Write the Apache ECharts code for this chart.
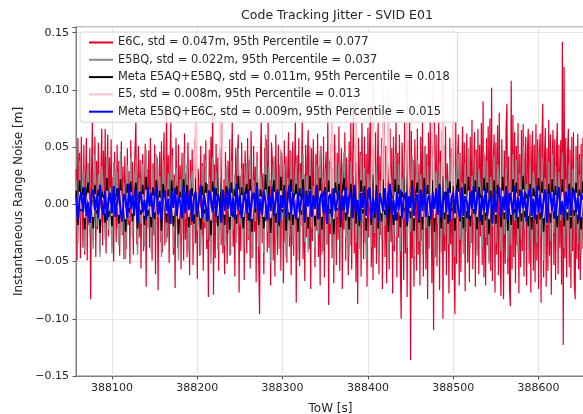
<!DOCTYPE html>
<html>
<head>
<meta charset="utf-8">
<script src="https://cdn.jsdelivr.net/npm/echarts@6/dist/echarts.min.js"></script>
<style>
  html, body { margin: 0; padding: 0; background: #fff; }
  #chart { width: 583px; height: 414px; }
</style>
</head>
<body>
<div id="chart"></div>
<script>
// time axis: first epoch [s] and sample steps
const t0 = 388058
const stepE6C = 1
const stepOther = 2

const xTicks = [388100, 388200, 388300, 388400, 388500, 388600]

const seriesNames = [
  'E6C, std = 0.047m, 95th Percentile = 0.077',
  'E5BQ, std = 0.022m, 95th Percentile = 0.037',
  'Meta E5AQ+E5BQ, std = 0.011m, 95th Percentile = 0.018',
  'E5, std = 0.008m, 95th Percentile = 0.013',
  'Meta E5BQ+E6C, std = 0.009m, 95th Percentile = 0.015'
]

// E6C noise [m], 1 s
const e6c = [
  0.031,-0.049,0.058,-0.012,0.045,-0.047,0.059,0.008,-0.038,0.052,
  -0.044,0.021,0.058,-0.049,0.036,-0.018,0.049,-0.083,0.027,0.072,
  -0.031,0.012,0.059,-0.046,0.038,-0.022,0.054,0.003,-0.041,0.028,
  0.066,-0.036,0.047,-0.015,0.066,-0.043,0.019,0.061,-0.028,0.041,
  -0.009,0.057,-0.037,0.024,-0.05,0.046,0.011,-0.033,0.052,-0.021,
  0.038,-0.045,0.014,0.055,-0.027,0.033,-0.048,0.042,0.006,-0.039,
  0.049,-0.018,0.029,-0.052,0.056,-0.011,0.037,-0.044,0.023,0.048,
  0.072,-0.035,0.017,0.051,-0.029,0.039,-0.056,0.026,0.044,-0.041,
  0.012,0.053,-0.072,0.031,-0.019,0.047,-0.038,0.058,0.004,-0.049,
  0.036,-0.027,0.052,-0.061,0.028,0.041,-0.075,0.019,0.046,-0.033,
  0.055,-0.042,0.024,0.063,-0.036,0.011,0.084,-0.029,0.043,-0.051,
  0.037,0.072,-0.017,0.049,-0.044,0.026,-0.073,0.058,0.008,-0.038,
  0.052,-0.023,0.034,-0.057,0.045,0.015,-0.049,0.062,-0.031,0.027,
  -0.046,0.054,0.003,-0.062,0.039,-0.018,0.048,-0.053,0.021,0.057,
  -0.034,0.042,-0.065,0.031,0.009,-0.045,0.051,-0.027,0.036,-0.058,
  0.044,-0.021,0.056,-0.039,0.018,-0.081,0.048,-0.032,0.059,0.012,
  0.081,-0.079,0.035,-0.047,0.053,-0.016,0.041,-0.058,0.027,0.049,
  -0.036,0.072,-0.043,0.022,-0.061,0.046,0.007,-0.052,0.038,-0.025,
  0.057,-0.044,0.031,0.072,-0.037,0.014,-0.063,0.049,-0.028,0.043,
  0.061,-0.077,0.025,-0.041,0.054,-0.019,0.036,-0.066,0.047,0.018,
  -0.043,0.058,-0.031,0.039,-0.056,0.064,0.008,-0.047,0.051,-0.024,
  0.033,-0.068,0.046,0.015,-0.052,-0.096,0.041,0.072,-0.034,0.027,
  -0.061,0.049,-0.015,0.057,-0.042,0.072,-0.038,0.021,-0.071,0.054,
  0.038,-0.049,0.029,-0.063,0.061,0.006,-0.044,0.052,-0.027,0.035,
  -0.058,0.045,0.019,-0.069,0.056,-0.033,0.042,-0.051,0.028,0.063,
  -0.037,0.047,-0.062,0.024,0.055,-0.045,0.031,0.074,-0.086,0.043,
  -0.021,0.058,-0.054,0.036,0.011,0.074,-0.048,0.026,-0.067,0.052,
  -0.029,0.041,0.065,-0.039,0.018,-0.074,0.049,-0.032,0.057,0.008,
  -0.055,0.044,-0.023,0.062,-0.046,0.033,-0.071,0.051,0.017,-0.041,
  0.059,-0.064,0.028,0.046,-0.035,0.077,-0.088,0.038,-0.026,0.053,
  -0.047,0.032,-0.069,0.061,0.014,-0.053,0.045,-0.031,0.068,-0.058,
  0.027,0.049,-0.074,0.036,-0.022,0.063,-0.049,0.041,0.009,-0.062,
  0.055,-0.036,0.072,-0.057,0.029,0.086,-0.043,0.052,-0.068,0.037,
  -0.087,0.058,-0.025,0.046,-0.063,0.071,0.012,-0.048,0.059,-0.034,
  0.044,-0.072,0.067,-0.029,0.053,0.086,-0.055,0.031,-0.066,0.048,
  -0.038,0.063,-0.052,0.026,0.071,-0.061,0.042,-0.027,0.058,-0.074,
  0.035,0.077,-0.046,0.051,-0.069,0.038,0.018,-0.057,0.066,-0.033,
  0.049,-0.078,0.059,-0.041,0.027,0.072,-0.064,0.045,-0.029,0.061,
  -0.052,-0.1,0.054,0.031,-0.066,0.072,-0.043,0.048,-0.081,0.056,
  0.021,0.072,-0.136,0.064,-0.047,0.039,-0.072,0.057,0.013,-0.058,
  0.066,-0.044,0.035,-0.071,0.059,-0.032,0.072,-0.063,0.028,0.051,
  -0.057,0.044,-0.083,0.063,-0.038,0.072,0.019,-0.069,0.055,-0.11,
  0.072,-0.046,0.061,-0.054,0.033,0.072,-0.075,0.047,-0.029,0.064,
  -0.1,0.052,-0.041,0.068,-0.062,0.036,0.017,-0.078,0.058,-0.035,
  0.049,-0.066,0.071,-0.048,-0.096,0.072,-0.052,0.038,0.061,-0.071,
  0.045,-0.059,0.027,0.068,-0.043,0.054,-0.076,0.036,0.062,-0.051,
  0.041,-0.068,0.059,-0.034,0.074,-0.057,0.029,0.063,-0.072,0.048,
  -0.039,0.066,-0.061,0.052,-0.028,0.071,-0.053,0.09,-0.064,0.043,
  -0.071,0.058,-0.036,0.068,-0.049,0.075,-0.058,0.102,-0.067,0.039,
  0.061,-0.077,0.054,-0.044,0.069,-0.062,0.08,-0.038,-0.08,0.057,
  0.056,-0.083,0.047,-0.052,0.067,0.088,-0.061,0.042,-0.074,-0.089,
  0.108,-0.057,0.078,-0.046,0.063,-0.069,0.051,-0.036,0.071,-0.078,
  0.044,-0.055,0.065,-0.041,0.07,-0.063,0.038,0.059,-0.071,0.049,
  0.066,-0.052,0.061,-0.077,0.043,0.064,-0.058,0.052,-0.068,0.07,
  -0.049,0.057,-0.074,0.045,0.062,-0.086,0.053,0.088,-0.064,0.041,
  0.067,-0.072,0.049,-0.058,0.074,-0.045,0.061,-0.079,0.038,0.065,
  -0.053,0.057,-0.066,0.044,0.071,-0.061,0.052,-0.038,0.056,-0.07,
  0.142,-0.123,0.12,-0.047,0.058,-0.064,0.043,0.066,-0.055,0.048,
  -0.073,0.059,-0.041,0.063,-0.069,-0.083,0.051,-0.048,0.062,-0.057,
  0.044,-0.066,0.053,-0.039,0.058,-0.052
]

// E5BQ noise [m], 2 s
const e5bq = [
  0.021,-0.034,0.038,-0.012,0.029,-0.041,0.017,0.036,-0.027,0.008,
  -0.039,0.044,-0.019,0.026,-0.046,0.033,0.011,-0.031,0.042,-0.022,
  0.015,-0.043,0.037,-0.008,0.028,-0.036,0.046,-0.025,0.019,-0.048,
  0.034,-0.014,0.041,-0.029,0.006,0.039,-0.044,0.023,-0.017,0.035,
  -0.037,0.048,-0.021,0.013,-0.042,0.031,-0.028,0.044,-0.011,0.025,
  -0.046,0.038,0.004,-0.033,0.027,-0.019,0.043,-0.038,0.016,0.032,
  -0.049,0.022,-0.026,0.045,-0.013,0.036,-0.041,0.018,0.029,-0.035,
  0.047,-0.023,0.009,-0.044,0.034,-0.016,0.039,-0.031,0.024,-0.052,
  0.041,-0.007,0.028,-0.039,0.046,-0.027,0.014,-0.036,0.033,0.019,
  -0.045,0.038,-0.022,0.027,-0.034,0.049,-0.018,0.031,-0.041,0.012,
  0.036,-0.029,0.044,-0.047,0.021,-0.015,0.039,-0.037,0.026,0.008,
  -0.043,0.061,-0.024,0.033,-0.051,0.018,0.042,-0.032,0.027,-0.039,
  0.048,-0.014,0.035,-0.046,0.023,-0.028,0.045,-0.036,0.011,0.037,
  -0.049,0.029,-0.019,0.044,-0.033,0.025,-0.042,0.051,-0.021,0.016,
  -0.038,0.034,-0.026,0.047,-0.044,0.019,0.031,-0.035,0.042,-0.017,
  0.028,-0.053,0.039,-0.011,0.036,-0.041,0.024,0.046,-0.029,0.013,
  -0.045,0.037,-0.023,0.049,-0.034,0.018,-0.039,0.043,-0.016,0.032,
  -0.047,0.027,0.009,-0.037,0.052,-0.025,0.034,-0.043,0.021,-0.031,
  0.045,-0.019,0.038,-0.049,0.026,0.014,-0.036,0.044,-0.028,0.035,
  -0.041,0.023,-0.012,0.048,-0.038,0.031,-0.024,0.042,-0.046,0.017,
  0.039,-0.033,0.026,-0.044,0.047,-0.021,0.034,-0.039,0.013,0.043,
  -0.048,0.029,-0.017,0.037,-0.042,0.051,-0.027,0.022,-0.035,0.041,
  -0.013,0.033,-0.046,0.028,0.044,-0.031,0.019,-0.043,0.036,-0.024,
  0.049,-0.038,0.025,-0.016,0.042,-0.045,0.031,0.011,-0.037,0.046,
  -0.029,0.038,-0.052,0.024,-0.019,0.043,-0.034,0.035,0.017,-0.041,
  0.048,-0.026,0.032,-0.047,0.021,-0.036,0.044,-0.014,0.039,-0.043,
  0.027,-0.031,0.051,-0.022,0.018,-0.039,0.036,-0.045,0.029,0.012,
  -0.034,0.046,-0.027,0.041,-0.049,0.023,-0.018,0.037,-0.032,0.044,
  -0.025,0.033,-0.041,0.028,-0.014,0.045,-0.038,0.022,-0.029,0.036,
  -0.043,0.031,-0.021,0.039,-0.035,0.026,-0.044,0.041
]

// Meta E5AQ+E5BQ noise [m], 2 s
const metaE5 = [
  0.012,-0.018,0.021,-0.006,0.015,-0.022,0.009,0.019,-0.014,0.004,
  -0.021,0.017,-0.008,0.013,-0.025,0.011,0.006,-0.016,0.023,-0.011,
  0.007,-0.019,0.016,-0.003,0.014,-0.017,0.022,-0.012,0.008,-0.024,
  0.018,-0.007,0.02,-0.015,0.003,0.019,-0.021,0.011,-0.009,0.017,
  -0.018,0.024,-0.01,0.006,-0.02,0.015,-0.013,0.021,-0.005,0.012,
  -0.023,0.018,0.002,-0.016,0.013,-0.009,0.021,-0.019,0.008,0.016,
  -0.026,0.011,-0.012,0.022,-0.006,0.017,-0.02,0.009,0.014,-0.017,
  0.023,-0.011,0.004,-0.022,0.016,-0.008,0.019,-0.015,0.012,-0.027,
  0.02,-0.003,0.014,-0.019,0.023,-0.013,0.007,-0.018,0.016,0.009,
  -0.022,0.019,-0.011,0.013,-0.017,0.025,-0.009,0.015,-0.021,0.006,
  0.018,-0.014,0.022,-0.024,0.01,-0.007,0.019,-0.018,0.013,0.004,
  -0.021,0.026,-0.012,0.016,-0.025,0.009,0.021,-0.016,0.013,-0.019,
  0.024,-0.007,0.017,-0.023,0.011,-0.014,0.022,-0.018,0.005,0.018,
  -0.024,0.014,-0.009,0.022,-0.016,0.012,-0.021,0.025,-0.01,0.008,
  -0.019,0.017,-0.013,0.023,-0.022,0.009,0.015,-0.017,0.021,-0.008,
  0.014,-0.026,0.019,-0.005,0.018,-0.02,0.012,0.023,-0.014,0.006,
  -0.022,0.018,-0.011,0.024,-0.017,0.009,-0.019,0.021,-0.008,0.016,
  -0.023,0.013,0.004,-0.018,0.026,-0.012,0.017,-0.021,0.01,-0.015,
  0.022,-0.009,0.019,-0.024,0.013,0.007,-0.018,0.022,-0.014,0.017,
  -0.02,0.011,-0.006,0.024,-0.019,0.015,-0.012,0.021,-0.023,0.008,
  0.019,-0.016,0.013,-0.022,0.023,-0.01,0.017,-0.019,0.006,0.021,
  -0.024,0.014,-0.008,0.018,-0.021,0.025,-0.013,0.011,-0.017,0.02,
  -0.006,0.016,-0.023,0.014,0.022,-0.015,0.009,-0.021,0.018,-0.012,
  0.024,-0.019,0.012,-0.008,0.021,-0.022,0.015,0.005,-0.018,0.023,
  -0.014,0.019,-0.026,0.012,-0.009,0.021,-0.017,0.017,0.008,-0.02,
  0.024,-0.013,0.016,-0.023,0.01,-0.018,0.022,-0.007,0.019,-0.021,
  0.013,-0.015,0.025,-0.011,0.009,-0.019,0.018,-0.022,0.014,0.006,
  -0.017,0.023,-0.013,0.02,-0.024,0.011,-0.009,0.018,-0.016,0.022,
  -0.012,0.016,-0.02,0.014,-0.007,0.022,-0.019,0.011,-0.014,0.018,
  -0.021,0.015,-0.01,0.019,-0.017,0.013,-0.022,0.02
]

// E5 noise [m], 2 s
const e5 = [
  0.006,-0.009,0.011,-0.004,0.008,-0.012,0.003,0.01,-0.007,0.002,
  -0.011,0.009,-0.005,0.007,-0.013,0.006,0.004,-0.008,0.012,-0.006,
  0.003,-0.01,0.009,-0.002,0.007,-0.009,0.012,-0.006,0.004,-0.013,
  0.01,-0.003,0.011,-0.008,0.001,0.01,-0.011,0.006,-0.005,0.009,
  -0.01,0.013,-0.005,0.003,-0.011,0.008,-0.007,0.011,-0.002,0.006,
  -0.012,0.009,0.001,-0.008,0.007,-0.005,0.011,-0.01,0.004,0.008,
  -0.013,0.006,-0.007,0.012,-0.003,0.009,-0.011,0.005,0.007,-0.009,
  0.085,-0.006,0.002,-0.012,0.008,-0.004,0.01,-0.008,0.006,-0.014,
  0.011,-0.002,0.007,-0.01,0.012,0.13,0.004,-0.009,0.008,0.005,
  -0.011,0.01,-0.006,0.007,-0.009,0.013,-0.005,0.008,-0.011,0.003,
  0.009,-0.007,0.012,-0.013,0.005,-0.004,0.01,-0.009,0.007,0.002,
  -0.011,0.013,-0.006,0.008,-0.012,0.005,0.011,-0.008,0.007,-0.01,
  0.012,-0.004,0.009,-0.012,0.006,-0.007,0.011,-0.009,0.003,0.009,
  -0.012,0.007,-0.005,0.011,-0.008,0.006,-0.011,0.013,-0.005,0.004,
  -0.01,0.009,-0.007,0.012,-0.011,0.005,0.008,-0.009,0.011,-0.004,
  0.09,-0.013,0.01,-0.003,0.009,-0.01,0.006,0.012,-0.007,0.003,
  -0.011,0.009,-0.006,0.012,0.096,0.005,-0.01,0.011,-0.004,0.008,
  -0.012,0.007,0.002,-0.009,0.126,-0.006,0.009,-0.011,0.005,-0.008,
  0.105,-0.005,0.01,0.1,0.007,0.004,-0.009,0.011,-0.007,0.009,
  -0.01,0.006,-0.003,0.012,0.109,0.008,-0.006,0.011,-0.012,0.004,
  0.01,-0.008,0.007,-0.011,0.012,-0.005,0.009,-0.01,0.003,0.111,
  -0.012,0.007,-0.004,0.009,-0.011,0.11,-0.007,0.006,-0.009,0.01,
  -0.003,0.111,-0.012,0.007,0.011,-0.008,0.005,-0.011,0.009,-0.006,
  0.012,-0.01,0.006,-0.004,0.011,-0.011,0.008,0.003,-0.009,0.012,
  -0.007,0.01,-0.013,0.006,-0.005,0.011,-0.009,0.009,0.004,-0.01,
  0.012,-0.007,0.008,-0.012,0.005,-0.009,0.011,-0.004,0.01,-0.011,
  0.007,-0.008,0.013,-0.006,0.005,-0.01,0.009,-0.011,0.007,0.003,
  -0.009,0.012,-0.007,0.01,-0.012,0.006,-0.005,0.009,-0.008,0.011,
  -0.006,0.008,-0.01,0.007,-0.004,0.011,-0.01,0.006,-0.007,0.009,
  -0.011,0.008,-0.005,0.01,-0.009,0.007,-0.011,0.01
]

// Meta E5BQ+E6C noise [m], 2 s
const metaE6 = [
  0.008,-0.013,0.004,0.011,-0.007,0.015,-0.01,0.002,-0.016,0.009,
  0.013,-0.005,0.007,-0.012,0.017,-0.003,-0.009,0.012,-0.014,0.006,
  0.01,-0.008,0.016,-0.011,0.003,0.014,-0.006,-0.015,0.009,0.005,
  -0.012,0.018,-0.004,0.008,-0.01,0.013,-0.016,0.006,0.011,-0.007,
  0.004,-0.013,0.015,-0.002,0.01,-0.011,0.007,0.016,-0.009,0.003,
  -0.014,0.009,0.012,-0.006,0.005,-0.017,0.011,-0.003,0.014,-0.01,
  0.007,0.002,-0.012,0.016,-0.008,0.01,-0.005,0.013,-0.015,0.006,
  0.011,-0.009,0.004,0.017,-0.012,0.008,-0.002,-0.014,0.012,0.005,
  -0.007,0.015,-0.011,0.009,0.003,-0.016,0.013,-0.006,0.01,-0.004,
  0.014,-0.01,0.006,-0.013,0.018,-0.005,0.008,-0.012,0.003,0.011,
  -0.008,0.013,-0.015,0.007,0.01,-0.004,0.016,-0.011,0.005,-0.009,
  0.012,0.002,-0.014,0.009,-0.006,0.015,-0.01,0.004,0.011,-0.016,
  0.008,-0.003,0.013,-0.012,0.006,0.017,-0.009,0.01,-0.005,-0.013,
  0.011,-0.007,0.004,0.014,-0.015,0.009,-0.002,0.012,-0.011,0.007,
  -0.004,0.016,-0.013,0.005,0.01,-0.008,0.013,-0.017,0.006,0.009,
  -0.011,0.014,-0.006,0.003,0.012,-0.014,0.008,-0.005,0.015,-0.009,
  0.006,0.011,-0.012,0.017,-0.007,0.004,-0.015,0.01,-0.003,0.013,
  -0.01,0.007,0.015,-0.013,0.005,-0.008,0.012,-0.016,0.009,0.002,
  -0.006,0.014,-0.011,0.008,0.018,-0.009,0.004,-0.014,0.011,-0.005,
  0.013,-0.012,0.006,0.01,-0.016,0.007,-0.003,0.015,-0.01,0.004,
  0.009,-0.014,0.012,-0.006,0.016,-0.011,0.005,0.008,-0.013,0.01,
  -0.004,0.013,-0.009,0.017,-0.012,0.003,0.011,-0.007,0.014,-0.015,
  0.006,0.01,-0.008,0.013,-0.005,-0.012,0.015,-0.01,0.007,0.002,
  -0.013,0.011,-0.004,0.016,-0.009,0.006,0.012,-0.015,0.008,-0.006,
  0.014,-0.01,0.003,0.009,-0.017,0.012,-0.007,0.005,0.015,-0.011,
  0.007,-0.005,0.013,-0.014,0.01,0.004,-0.009,0.016,-0.012,0.006,
  -0.008,0.012,-0.003,0.011,-0.015,0.008,0.014,-0.01,0.005,-0.013,
  0.016,-0.007,0.009,-0.011,0.004,0.013,-0.016,0.007,0.01,-0.006,
  0.012,-0.013,0.005,0.015,-0.009,0.003,-0.012,0.011,-0.004,0.014,
  -0.01,0.008,0.013,-0.007,0.006,-0.014,0.01,0.004
]

const colors = ['#e2002b', '#8c8c8c', '#000000', '#ffc0cb', '#0000ff']
const widths = [1.2, 1.4, 1.6, 1.5, 2]

const toPairs = (values, step) => values.map((v, i) => [t0 + i * step, v])

const font = 'DejaVu Sans'
const chart = echarts.init(document.getElementById('chart'), null, {renderer: 'canvas'})

const fmtY = (v) => {
  if (Math.abs(v * 20 - Math.round(v * 20)) > 1e-6) {
    return ''
  }
  return (v < -1e-9 ? '\u2212' : '') + Math.abs(v).toFixed(2)
}

chart.setOption({
  animation: false,
  color: colors,
  title: {
    text: 'Code Tracking Jitter - SVID E01',
    left: 332,
    textAlign: 'center',
    top: 4,
    textStyle: {fontFamily: font, fontSize: 12.5, fontWeight: 'normal', color: '#262626'},
  },
  grid: {
    left: 76,
    right: -2,
    top: 27,
    bottom: 38,
    outerBoundsMode: 'none',
    show: true,
    borderColor: '#7f7f7f',
    borderWidth: 1,
  },
  legend: {
    orient: 'vertical',
    left: 80,
    top: 32,
    padding: [5, 8, 5, 8],
    itemWidth: 24,
    itemHeight: 12,
    itemGap: 6.3,
    backgroundColor: 'rgba(255,255,255,0.8)',
    borderColor: '#d6d6d6',
    borderWidth: 1,
    borderRadius: 3,
    itemStyle: {opacity: 0},
    lineStyle: {width: 2},
    textStyle: {fontFamily: font, fontSize: 11.4, color: '#262626'},
    data: seriesNames,
  },
  xAxis: {
    type: 'value',
    min: 388057.8,
    max: 388654.5,
    name: 'ToW [s]',
    nameLocation: 'middle',
    nameGap: 27,
    nameMoveOverlap: false,
    nameTextStyle: {fontFamily: font, fontSize: 12, color: '#262626'},
    axisLine: {show: true, onZero: false, lineStyle: {color: '#7f7f7f'}},
    axisTick: {show: true, length: 3.5, customValues: xTicks, lineStyle: {color: '#555'}},
    axisLabel: {
      customValues: xTicks,
      margin: 7,
      fontFamily: font,
      fontSize: 11,
      color: '#262626',
      formatter: (v) => String(v),
    },
    splitLine: {show: true, lineStyle: {color: '#e5e5e5', width: 1}},
  },
  yAxis: {
    type: 'value',
    min: -0.15,
    max: 0.155,
    interval: 0.05,
    name: 'Instantaneous Range Noise [m]',
    nameLocation: 'middle',
    nameGap: 51,
    nameTextStyle: {fontFamily: font, fontSize: 12, color: '#262626'},
    axisLine: {show: true, onZero: false, lineStyle: {color: '#7f7f7f'}},
    axisTick: {show: true, length: 3.5, lineStyle: {color: '#555'}},
    axisLabel: {margin: 7, fontFamily: font, fontSize: 11, color: '#262626', formatter: fmtY},
    splitLine: {show: true, lineStyle: {color: '#e5e5e5', width: 1}},
  },
  series: [
    {name: seriesNames[0], data: toPairs(e6c, stepE6C)},
    {name: seriesNames[1], data: toPairs(e5bq, stepOther)},
    {name: seriesNames[2], data: toPairs(metaE5, stepOther)},
    {name: seriesNames[3], data: toPairs(e5, stepOther)},
    {name: seriesNames[4], data: toPairs(metaE6, stepOther)},
  ].map((s, i) => ({
    ...s,
    type: 'line',
    symbol: 'none',
    showSymbol: false,
    sampling: null,
    clip: true,
    lineStyle: {width: widths[i], color: colors[i]},
    itemStyle: {color: colors[i]},
    emphasis: {disabled: true},
  })),
})
</script>
</body>
</html>
